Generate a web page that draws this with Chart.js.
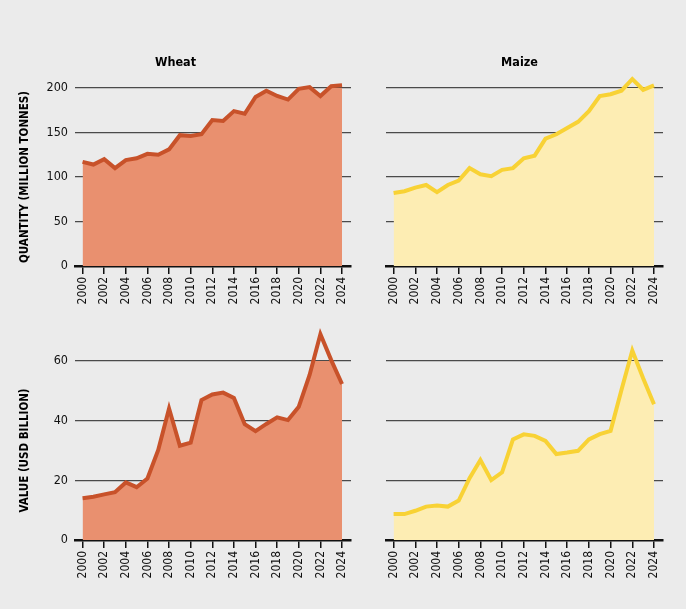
<!DOCTYPE html>
<html>
<head>
<meta charset="utf-8">
<script src="https://cdn.jsdelivr.net/npm/chart.js@4.4.1/dist/chart.umd.min.js"></script>
<style>
  html, body { margin: 0; padding: 0; background: #ebebeb; }
  #wrap { position: relative; width: 686px; height: 609px; overflow: hidden; }
  .c { position: absolute; }
</style>
</head>
<body>
<div id="wrap">
  <div class="c" style="left:0;top:40px;width:356px;height:270px"><canvas id="wq"></canvas></div>
  <div class="c" style="left:376px;top:40px;width:310px;height:270px"><canvas id="mq"></canvas></div>
  <div class="c" style="left:0;top:310px;width:356px;height:299px"><canvas id="wv"></canvas></div>
  <div class="c" style="left:376px;top:310px;width:310px;height:299px"><canvas id="mv"></canvas></div>
</div>
<script>
const years = Array.from({ length: 25 }, (_, i) => 2000 + i);

// quantity, million tonnes
const wheatQty = [117, 114, 120, 110, 119, 121, 126, 125, 131, 147, 146, 148, 164, 163, 174, 171, 190, 197, 191, 187, 199, 201, 191, 202, 203];
const maizeQty = [82, 84, 88, 91, 83, 91, 96, 110, 103, 101, 108, 110, 121, 124, 143, 148, 155, 162, 174, 191, 193, 197, 210, 198, 203];

// value, USD billion
const wheatVal = [14.0, 14.5, 15.3, 16.0, 19.3, 17.7, 20.6, 30.2, 44.1, 31.6, 32.6, 46.9, 48.8, 49.4, 47.6, 38.8, 36.5, 38.9, 41.1, 40.2, 44.7, 55.3, 69.0, 60.3, 52.3];
const maizeVal = [8.7, 8.7, 9.8, 11.2, 11.6, 11.2, 13.2, 20.7, 26.8, 20.1, 22.7, 33.7, 35.4, 34.9, 33.2, 28.8, 29.3, 29.9, 33.7, 35.5, 36.6, 50.3, 63.5, 54.2, 45.5];

const tickYears = years.filter(y => y % 2 === 0);

const FONT = "'DejaVu Sans Condensed', 'Liberation Sans Narrow', sans-serif";

Chart.defaults.font.family = FONT;
Chart.defaults.color = '#111';

function makeChart(id, opts) {
  const points = years.map((y, i) => ({ x: y, y: opts.values[i] }));
  return new Chart(document.getElementById(id), {
    type: 'line',
    data: {
      datasets: [{
        data: points,
        borderColor: opts.line,
        backgroundColor: opts.fill,
        borderWidth: 4,
        fill: 'origin',
        pointRadius: 0,
        tension: 0,
        clip: false,
      }],
    },
    options: {
      responsive: true,
      maintainAspectRatio: false,
      animation: false,
      layout: { padding: { top: opts.padTop, right: opts.padRight, left: 0, bottom: 0 } },
      plugins: {
        legend: { display: false },
        tooltip: { enabled: false },
        title: {
          display: !!opts.title,
          text: opts.title,
          font: { size: 12.5, weight: 'bold', family: FONT },
          color: '#000',
          padding: { top: 15, bottom: 18 },
        },
      },
      scales: {
        x: {
          type: 'linear',
          min: 1999.3,
          max: 2024.83,
          afterBuildTicks: (axis) => { axis.ticks = tickYears.map(v => ({ value: v })); },
          afterFit: (s) => { s.height = opts.xHeight; s.paddingLeft = 0; s.paddingRight = 0; },
          ticks: {
            callback: (v) => String(v),
            minRotation: 90,
            maxRotation: 90,
            autoSkip: false,
            padding: 3,
            font: { size: 12 },
            color: '#111',
          },
          grid: { drawOnChartArea: false, drawTicks: true, tickLength: 8, color: '#111', lineWidth: 1.5 },
          border: { display: true, color: '#111', width: 2.5 },
        },
        y: {
          min: 0,
          max: opts.max,
          afterFit: (s) => { s.width = opts.yWidth; s.paddingTop = 0; s.paddingBottom = 0; },
          ticks: {
            display: opts.showY,
            stepSize: opts.step,
            padding: 7,
            font: { size: 12.5 },
            color: '#111',
          },
          grid: { color: '#4a4a4a', lineWidth: 1.3, drawTicks: false },
          border: { display: false },
          title: {
            display: !!opts.yTitle,
            text: opts.yTitle,
            font: { size: 11.5, weight: 'bold', family: FONT },
            color: '#000',
            padding: { top: 18, bottom: 0 },
          },
        },
      },
    },
  });
}

const WHEAT_LINE = '#c8522a', WHEAT_FILL = '#e9906f';
const MAIZE_LINE = '#f8d235', MAIZE_FILL = '#fdedb3';

makeChart('wq', { values: wheatQty, line: WHEAT_LINE, fill: WHEAT_FILL, title: 'Wheat', yTitle: 'QUANTITY (MILLION TONNES)',
  max: 200, step: 50, showY: true, yWidth: 75, padTop: 0, padRight: 5, xHeight: 44 });
makeChart('mq', { values: maizeQty, line: MAIZE_LINE, fill: MAIZE_FILL, title: 'Maize', yTitle: '',
  max: 200, step: 50, showY: false, yWidth: 10, padTop: 0, padRight: 23, xHeight: 44 });
makeChart('wv', { values: wheatVal, line: WHEAT_LINE, fill: WHEAT_FILL, title: '', yTitle: 'VALUE (USD BILLION)',
  max: 60, step: 20, showY: true, yWidth: 75, padTop: 51, padRight: 5, xHeight: 69 });
makeChart('mv', { values: maizeVal, line: MAIZE_LINE, fill: MAIZE_FILL, title: '', yTitle: '',
  max: 60, step: 20, showY: false, yWidth: 10, padTop: 51, padRight: 23, xHeight: 69 });
</script>
</body>
</html>
